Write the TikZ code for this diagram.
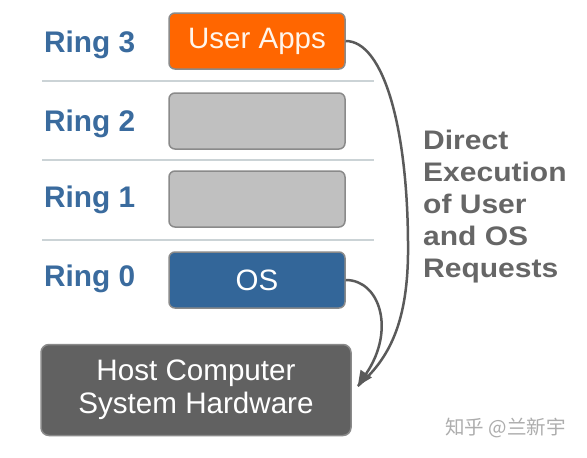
\documentclass[tikz,border=0pt]{standalone}
\usepackage{fontspec}
\setmainfont{Liberation Sans}
\newfontfamily\cjkfont{Noto Sans CJK SC}
\newfontfamily\widebold[FakeStretch=1.12]{Liberation Sans Bold}
\usetikzlibrary{arrows.meta}
\definecolor{ringblue}{HTML}{3A6B9E}
\definecolor{osblue}{HTML}{336699}
\definecolor{apporange}{HTML}{FF6600}
\definecolor{emptygray}{HTML}{C0C0C0}
\definecolor{hwgray}{HTML}{616161}
\definecolor{edgegray}{HTML}{8A8A8A}
\definecolor{sepgray}{HTML}{CBD3D6}
\definecolor{flowgray}{HTML}{5A5A5A}
\definecolor{notegray}{HTML}{666666}
\tikzset{
  ringbox/.style={draw=edgegray, line width=1.5pt, rounded corners=6pt,
    minimum width=176pt, minimum height=56pt, inner sep=0pt,
    font=\fontsize{29.5}{31}\selectfont},
  ringlabel/.style={anchor=west, inner sep=0pt, text=ringblue,
    font=\bfseries\fontsize{29.8}{32}\selectfont},
  separator/.style={draw=sepgray, line width=1.2pt},
  flow/.style={draw=flowgray, line width=2.5pt},
}
\begin{document}
\begin{tikzpicture}[x=1pt, y=-1pt]
  \fill[white] (0,0) rectangle (587,458);
  \useasboundingbox (0,0) rectangle (587,458);

  % privilege levels separators
  \draw[separator] (42,81) -- (374,81);
  \draw[separator] (42,160) -- (374,160);
  \draw[separator] (42,240) -- (374,240);

  % ring labels
  \node[ringlabel] (r3) at (44,45) {Ring 3};
  \node[ringlabel] (r2) at (44,124) {Ring 2};
  \node[ringlabel] (r1) at (44,200) {Ring 1};
  \node[ringlabel] (r0) at (44,279) {Ring 0};

  % ring contents
  \node[ringbox, fill=apporange, text=white!92!orange] (apps) at (257,41) {User Apps};
  \node[ringbox, fill=emptygray] (empty2) at (257,121) {};
  \node[ringbox, fill=emptygray] (empty1) at (257,199) {};
  \node[ringbox, fill=osblue, text=white] (os) at (257,280) {OS};

  % hardware
  \node[draw=edgegray, line width=1.5pt, rounded corners=8pt, fill=hwgray,
    minimum width=310pt, minimum height=91pt, inner sep=0pt, text=white,
    align=center, font=\fontsize{29.6}{33}\selectfont] (hw) at (196,390)
    {Host Computer\\System Hardware};

  % side note
  \node[anchor=north west, inner sep=0pt, align=left, text=notegray,
    font=\widebold\fontsize{26.8}{32}\selectfont] (note) at (423,130)
    {Direct\\Execution\\of User\\and OS\\Requests};

  % execution paths down to the hardware
  \coordinate (tip) at ([xshift=6pt,yshift=4pt]hw.east);
  \coordinate (bend) at (408,255);
  \draw[flow] (apps.east) .. controls +(38,0) and (409,130) .. (bend)
    .. controls (407,325) and (388,360) .. (tip);
  \draw[flow, -{Triangle[length=15pt,width=13pt]}]
    (os.east) .. controls +(34,0) and (396,330) .. (tip);

  % watermark
  \node[anchor=east, inner sep=0pt, text=black!32,
    font=\cjkfont\fontsize{19.5}{21}\selectfont] (mark) at (566,428) {知乎 @兰新宇};
\end{tikzpicture}
\end{document}
